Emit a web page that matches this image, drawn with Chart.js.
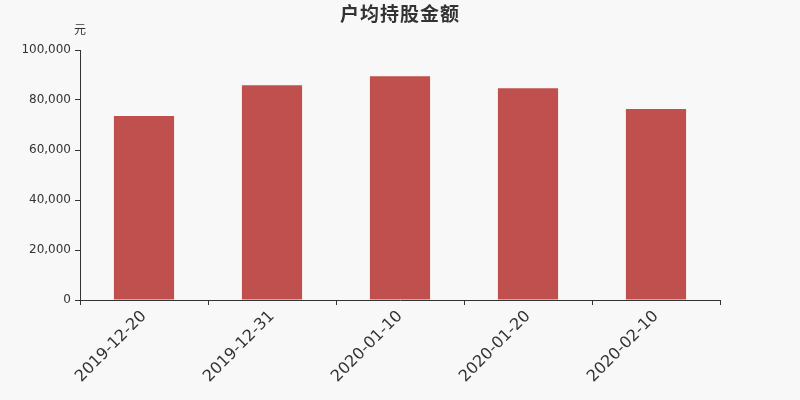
<!DOCTYPE html>
<html>
<head>
<meta charset="utf-8">
<script src="https://cdn.jsdelivr.net/npm/chart.js@4/dist/chart.umd.min.js"></script>
<style>
  html, body { margin: 0; padding: 0; background: #f8f8f8; }
  #wrap { width: 800px; height: 400px; }
</style>
</head>
<body>
<div id="wrap"><canvas id="myChart" width="800" height="400"></canvas></div>
<script>
// Daten
const categories = ["2019-12-20", "2019-12-31", "2020-01-10", "2020-01-20", "2020-02-10"];
const amountValues = [73600, 85900, 89500, 84700, 76400];
const yTicks = [0, 20000, 40000, 60000, 80000, 100000];

const fontFamily = "'DejaVu Sans', 'Noto Sans CJK SC', sans-serif";

// Titel und Einheit zeichnen
const titlePlugin = {
    id: "titleText",
    afterDraw(chart) {
        const ctx = chart.ctx;
        ctx.save();
        ctx.fillStyle = "#333333";
        ctx.textAlign = "center";
        ctx.textBaseline = "middle";
        ctx.font = "bold 19px 'Noto Sans CJK SC', sans-serif";
        ctx.letterSpacing = "1px";
        ctx.fillText("户均持股金额", 400, 14);
        ctx.letterSpacing = "0px";
        ctx.font = "12px 'Noto Sans CJK SC', sans-serif";
        ctx.fillText("元", 80, 29);
        ctx.restore();
    }
};

const ctx = document.getElementById("myChart").getContext("2d");

new Chart(ctx, {
    type: "bar",
    data: {
        labels: categories,
        datasets: [
            {
                label: "户均持股金额",
                data: amountValues,
                backgroundColor: "#c0504d",
                borderWidth: 0,
                categoryPercentage: 1.0,
                barPercentage: 0.47
            }
        ]
    },
    options: {
        responsive: false,
        animation: false,
        layout: {
            padding: { top: 50, right: 80, left: 0, bottom: 0 }
        },
        scales: {
            x: {
                offset: true,
                afterFit: scale => { scale.height = 100; },
                border: { color: "#333333", width: 1 },
                grid: {
                    offset: true,
                    drawOnChartArea: false,
                    drawTicks: true,
                    tickLength: 5,
                    color: "#333333"
                },
                ticks: {
                    color: "#333333",
                    font: { family: fontFamily, size: 16 },
                    maxRotation: 45,
                    minRotation: 45,
                    padding: 2
                }
            },
            y: {
                min: 0,
                max: 100000,
                afterFit: scale => { scale.width = 80; },
                afterBuildTicks: scale => { scale.ticks = yTicks.map(v => ({ value: v })); },
                border: { color: "#333333", width: 1 },
                grid: {
                    drawOnChartArea: false,
                    drawTicks: true,
                    tickLength: 5,
                    color: "#333333"
                },
                ticks: {
                    color: "#333333",
                    font: { family: fontFamily, size: 12 },
                    padding: 4,
                    callback: v => v.toLocaleString("en-US")
                }
            }
        },
        plugins: {
            legend: { display: false },
            title: { display: false },
            tooltip: { enabled: false }
        }
    },
    plugins: [titlePlugin]
});
</script>
</body>
</html>
